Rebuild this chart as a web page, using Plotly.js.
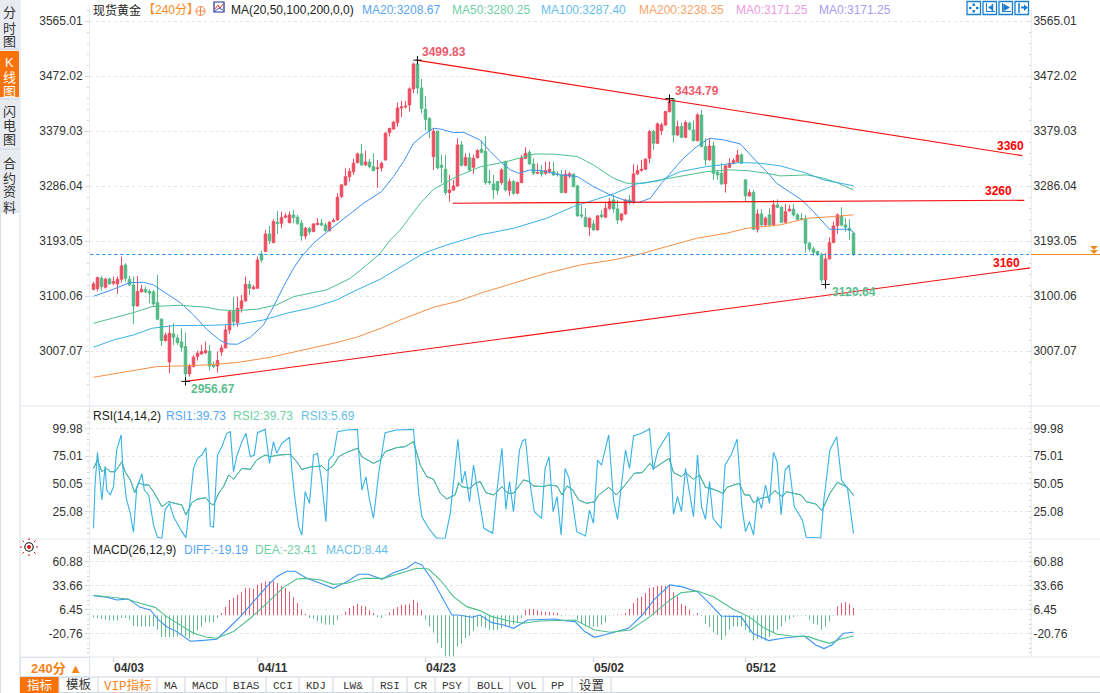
<!DOCTYPE html>
<html><head><meta charset="utf-8">
<script src="https://cdn.plot.ly/plotly-3.0.1.min.js"></script>
<style>html,body{margin:0;padding:0;background:#fff;overflow:hidden}#c{width:1100px;height:693px}</style>
</head><body><div id="c"></div>
<script>
const opens=[3112.5,3113.6,3131.1,3115.9,3130,3122.6,3121.5,3129.4,3153.6,3129.4,
3119.8,3084.3,3108,3112.5,3109.1,3108,3089.9,3061.8,3025.7,2989.6,
3037,3030.2,3023.4,3015.5,2969.3,2981.7,2998.6,3003.1,3005.4,3007.7,
2984,2982.8,3006.5,3013.3,3043.7,3074.7,3056.1,3080.4,3092.8,3120.9,
3113,3114.2,3172.2,3176.2,3206,3191.3,3225.7,3224,3234.2,3225.1,
3238.1,3234.2,3224,3202.6,3215,3210,3221.8,3224,3221.2,3211.6,
3226.9,3229.7,3269.1,3288.9,3302.9,3311.4,3326.6,3341.3,3322.7,3327.7,
3319.8,3316.5,3317.6,3331.1,3377.3,3383.5,3394.2,3419,3420.7,3424,
3451.2,3493.4,3452.9,3416.8,3401,3336.8,3379.6,3322.1,3315.3,3275.9,
3280.4,3287.2,3356.5,3322.1,3335,3318.7,3335,3349.2,3345.3,3294.5,
3290.6,3294.5,3292.9,3328.4,3279.3,3294.5,3274.8,3292.9,3334,3343.6,
3324.4,3308.6,3311.4,3308.6,3311.4,3311.4,3307.5,3305.8,3275.9,3304.1,
3306.9,3287.2,3238.2,3234.2,3217.3,3223,3212.8,3238.2,3234.2,3249.4,
3263.5,3248.3,3229.7,3239.9,3263.5,3259,3307.5,3313.1,3315.4,3334,
3379,3359.3,3380.8,3390.3,3412.9,3433.8,3373.4,3387.5,3369.5,3393.2,
3381.9,3363.9,3407.3,3353.7,3331.2,3354.8,3309.7,3308.6,3290.6,3318.8,
3325.5,3328.4,3339.6,3297.4,3270.3,3275.9,3213.9,3239.9,3221.3,3238.2,
3221.3,3255.1,3251.1,3225.8,3245,3247.8,3238.2,3232,3230.9,3190.3,
3180.7,3176.2,3170.6,3128.3,3163.8,3191.4,3220.1,3236.5,3221.3,3215.6,
3207.2];
const highs=[3125.4,3133.9,3135,3132.2,3132.2,3133.9,3133.9,3167.7,3156.4,3135,
3133.9,3135,3119.8,3117,3112.5,3111.3,3136.7,3063.4,3039.2,3052.2,
3055,3035.3,3046.5,3039.2,2986.2,3001.4,3008.8,3018.4,3024,3018.4,
2990.2,3007,3018.4,3052.2,3077.5,3100,3100,3102.9,3133.9,3126.6,
3119.8,3167.7,3177.9,3212.8,3220,3230.8,3244.9,3243.8,3241,3243.8,
3246.6,3238.1,3229.7,3218,3218,3224,3232.5,3231.4,3225,3228,
3232.5,3274.8,3290.5,3317,3317,3332.8,3343.5,3358.2,3346.9,3332.8,
3342.4,3331,3328.3,3377.9,3385.8,3397,3428,3430.9,3430.9,3454,
3495.7,3499.83,3468,3439.3,3403.3,3384.7,3380.7,3340.1,3339.6,3305.8,
3297.3,3367.8,3363.2,3342.4,3343.5,3339.6,3349.2,3363.9,3371.8,3314.3,
3305.8,3296,3317,3330,3300,3297.3,3294.5,3339.6,3352.6,3348,
3334,3325.5,3322.7,3328.4,3328.4,3328.4,3312,3314.3,3314.3,3311.4,
3308.6,3289,3255,3249.4,3234,3229.7,3238.2,3246.6,3260.7,3266.4,
3272,3263.5,3241,3264.7,3272,3323.8,3322.7,3331.2,3334,3381.9,
3381.9,3394.3,3394,3414,3434.79,3435,3397.7,3394.3,3397.7,3396,
3397.7,3410.1,3415.7,3367.8,3367.8,3362.2,3314.3,3325.5,3322.7,3334,
3334,3348,3342.4,3298.5,3281.6,3280.4,3247.8,3247.8,3235.4,3249.4,
3263.5,3264.7,3253.4,3256.8,3255.1,3256.8,3241,3241,3238.2,3193.1,
3184.6,3177.9,3174.5,3173.4,3200.4,3226.9,3241,3251.1,3232.5,3230.9,
3210];
const lows=[3110.2,3109.1,3110.2,3113.6,3119.8,3119.8,3104.6,3123.8,3125.4,3118.1,
3053.9,3083.2,3107.4,3105.7,3088.8,3084.3,3060.6,3016.7,3024,2970.4,
3018.4,3018.4,3007.1,2956.67,2964.8,2980.6,2991.9,3001.4,3003.1,2974.9,
2978.9,2971.6,2999.8,3012.7,3037,3049.4,3049.4,3073,3091.6,3102.9,
3112.5,3114.2,3157.6,3175,3189,3190.2,3206,3215.6,3232.5,3224,
3224,3221.2,3194.7,3197,3205,3209,3220.7,3219.5,3209.4,3210,
3226,3228,3266.9,3287,3294.5,3305.8,3325.5,3321,3321,3317,
3312.5,3284.3,3311.4,3330,3370.6,3381.8,3387.5,3403.3,3418.5,3412.8,
3443.8,3442.7,3410,3380.7,3367.8,3314.2,3315.3,3291.7,3272,3260.7,
3278.7,3286,3320,3320,3313,3307.4,3333.4,3342.4,3288.9,3289,
3265.2,3272,3289,3277.6,3270.3,3272,3273.7,3291.7,3332.9,3322.7,
3305.8,3307.5,3303,3305.8,3308.6,3304,3303,3274.8,3274.8,3300,
3285,3235.4,3232.5,3217.3,3202.7,3211.7,3211.7,3232.5,3233.7,3246.6,
3241,3223,3226.9,3238.2,3255,3256.8,3305.8,3311.4,3314.3,3325.5,
3348,3358.2,3373.4,3388.7,3411,3360.5,3371.7,3367.8,3367.8,3380.8,
3362.2,3362.2,3352.6,3321.6,3330,3297.4,3297.4,3288.9,3275.9,3317,
3323.8,3326.7,3324.4,3260.7,3269.2,3212.8,3208.3,3219.6,3218.4,3218.4,
3220.1,3249.4,3225.2,3225.2,3243.8,3235.4,3228.6,3228.6,3174.5,3176.2,
3169.4,3168.9,3123.8,3120.64,3163.2,3190.3,3206,3218.4,3210,3195.9,
3168.9];
const closes=[3121.5,3132.2,3117,3129.4,3121.5,3125.4,3129.4,3151.9,3131.1,3119.8,
3084.3,3108.5,3112.5,3108,3105.7,3087.7,3061.8,3025.7,3034.7,3038.1,
3031.3,3022.3,3014.4,2969.3,2981.7,2997.5,3004.3,3007,3008.8,2982.8,
2981.7,2991.9,3013.3,3043.7,3074.7,3057.8,3080.4,3092.8,3120.9,3114.2,
3115.9,3162.1,3162.1,3206,3194.7,3226.9,3223.5,3233.6,3236.4,3238.1,
3233.6,3224,3202.6,3215.6,3209.4,3222.9,3224,3221.2,3211.6,3225.7,
3228.5,3268,3288.9,3302.9,3311.4,3325.5,3341.3,3322.7,3327.7,3319.8,
3313,3317.6,3325.5,3376.2,3384.1,3394.8,3419,3420.7,3421.9,3451.2,
3493.4,3452.9,3417.9,3399.9,3380.7,3379.6,3317.6,3318.7,3275.9,3280.4,
3287.2,3356.5,3322.1,3335,3314.2,3334,3346.9,3344.1,3292.9,3292.9,
3280.4,3279.3,3314.3,3280.4,3294.5,3274.8,3292.9,3334,3342.4,3324.4,
3308.6,3309.8,3307.5,3313,3315.4,3305.8,3306.4,3275.9,3306.9,3307.5,
3286,3236.5,3236.5,3218.4,3232.5,3212.8,3236.5,3235.4,3249.4,3260.7,
3248.3,3229.7,3239.9,3263.5,3259,3307.5,3313.1,3315.4,3332.3,3379,
3359.3,3392,3390.3,3412.9,3429.8,3373.4,3387.5,3369.5,3394.3,3383,
3363.9,3407.3,3353.7,3331.2,3354.8,3308.6,3305.8,3290.6,3321,3325.5,
3330,3339.6,3325.5,3270.3,3275.9,3213.9,3239.9,3221.3,3232.5,3221.3,
3255.1,3251.1,3225.8,3243.8,3247.8,3238.2,3230.9,3230.9,3190.3,3180.7,
3175,3171.7,3128.3,3163.8,3191.4,3219.6,3238.2,3221.3,3217.3,3211.7,
3171.25];

const ma20X=[0,5,9,12.5,15,18.3,21.7,25,28.3,31.7,33.7,36,39.2,42.5,45,47.5,50,52,55,59,63.3,67.5,72,75,77.5,80,82.5,85,87,90,92.5,96.7,99.2,101.7,104.2,106.3,109.2,112,116.7,121,125,129.2,133,136.3,139.2,142,144.2,147.5,150.8,154,157.5,161.7,165,168.3,170.8,173.3,177,180,184,189,190];
const ma20Y=[3100.6,3112.5,3123.8,3124.3,3119.8,3105.7,3089.9,3069.1,3044.8,3025.7,3020,3019.5,3031.3,3052.2,3083.2,3117,3148,3167.7,3190.3,3212.8,3235.3,3257.8,3277.6,3303,3328.3,3359.3,3373.4,3384.7,3383,3377.3,3377.9,3364.5,3345.3,3328.4,3314.3,3308.6,3314.3,3313,3305.8,3303,3286,3272,3262.4,3259,3266.4,3291.7,3308.6,3334,3353.7,3367.8,3365,3358.2,3334,3311.4,3291.7,3280.4,3263.5,3243.8,3213.9,3213.9,3208.67];
const ma50X=[0,5,10,14.6,21.7,28.3,31.7,35.8,40.8,45.8,50,58.3,64.2,68.3,71.7,74.2,76.7,81.7,85,90.8,96.7,103.3,110.4,115.4,121,125,130,133.3,137.5,141.7,146.7,153.3,159.2,163.3,168.3,171.7,178.3,182.5,185.8,190];
const ma50Y=[3055,3063.4,3073,3083.2,3085.4,3082,3077.5,3076.4,3078.7,3086,3100,3111.4,3131,3153.6,3173.3,3195.9,3212.8,3257.8,3281.5,3303,3319.5,3328.4,3341.3,3340.8,3336.8,3322.7,3300.2,3291.7,3291.7,3297.4,3303,3311.4,3314.3,3313.1,3308.6,3304.1,3305.8,3300.2,3292.9,3280.25];
const ma100X=[0,5,10,14.6,20,30,36.7,42.5,48.3,55,60.8,65.8,71.7,77.5,82.5,88.3,96.7,105,113.3,120,125,130,135.8,141.7,146.7,153.3,161.7,166.7,171.7,178.3,182.5,186.7,190];
const ma100Y=[3014.4,3026.8,3035.3,3046.5,3051,3051.6,3053.9,3060.6,3071.9,3082,3094.4,3111.3,3129.4,3153.6,3173.3,3187.4,3204.4,3215.6,3232.5,3252.3,3263.5,3273.7,3290.6,3296.2,3311.4,3319.9,3326.7,3325.5,3321,3308.6,3297.4,3291.7,3287.4];
const ma200X=[0,5,10,15.8,21.7,28.3,35.8,44.2,51.7,60,65.8,72.5,76.7,85,90.8,96.7,105,113.3,121.7,130,136.7,143.3,150.8,158.3,163.3,171.7,178.3,185,190];
const ma200Y=[2963.7,2969.3,2975,2981.7,2982.8,2984.5,2988.5,2997.5,3008.8,3021.2,3031.3,3048.2,3060.6,3082,3091.6,3105.7,3122.7,3139.6,3153.6,3162.1,3172.2,3184.6,3198.7,3207.2,3215.6,3221.3,3232.5,3235.4,3238.35];

const rsi3X=[0,0.4,1,1.7,2.1,2.9,3.3,4.2,5,5.8,6.9,7.3,8.2,9.2,10,10.8,12.1,12.7,13.8,15,16,17.1,17.9,19,20,22.1,23.1,24,25,26,27.1,28.1,28.8,29.2,30,31,32.1,33.3,34.2,35,35.8,37.1,38.1,39.2,40.2,41,42.9,44,45,45.8,47.1,49,49.6,50.4,51.3,52.1,52.9,54,55,56,57.1,58.1,58.8,60,61,63.3,66,66.4,67.1,68.1,69,70,71.3,72.9,75.8,80,80.7,81.3,82.1,83.8,85.8,87.9,89.2,90.2,91.1,92.1,92.9,94,95,
97.6,99.8,100.6,102.1,103.1,104,105,106.5,107.3,108,109,110.2,112,112.9,113.9,114.9,115.9,116.9,117.9,118.9,120.8,123,124,125,126,127,128.8,130,131,133,134,135,137,139,139.9,141.1,143.9,145,146,147,148,150,151,152,153,154,154.9,156.9,157.9,159.4,160.9,162.1,163,164,165,166,167,168,169,170,170.9,171.9,172.9,173.9,175.2,177.2,178.2,181.8,182.6,184.1,185.8,187,188.5,190];
const rsi3Y=[10.2,50.6,78.4,53.6,35.6,66.1,44.6,40.1,47.6,80.5,94,65.5,37.1,23.6,6.6,46.1,59,44.6,40.1,13.2,2.1,1.2,26.6,32.6,20.6,7.2,1.8,29.6,64,73,76,82.6,46.1,12.3,11.1,76,83.5,95.5,97,61,74.5,88,95.5,74.5,76,96,99,68.5,88,77.5,86.5,91.9,62.5,35.6,11.7,4.2,43.1,32.6,76,77.5,50.6,16.2,71.5,76,97,98.5,99,74.5,44.6,56.6,35.6,19.1,59.6,96,98.5,99,71.5,41.6,20.6,10.2,1.2,1.2,23.6,56.6,90.1,50.6,61.6,34.1,67,
10.2,5.7,35.6,82,27.2,52.1,25.1,80.5,88.9,90.1,53.6,25.1,19.1,64,74.5,25.1,38.6,4.2,64,55,7.2,3.3,26.6,14.7,71.5,67,94,35.6,18.3,80.5,64,93.1,95.5,99.4,62.5,80.5,96.4,22.7,38.6,25.1,64,20.6,76,29.6,18.3,52.1,19.1,10.2,67,76,90.1,29.6,7.2,16.2,4.2,38.6,28.1,49.1,32.6,78.4,70,22.1,62.5,67,29.6,17.7,2.1,1.5,35.6,80.5,92.5,53.6,46.1,5.69];
const rsi2X=[0,1,2.1,3.2,4.2,5.4,7.1,7.9,9.2,10.3,11.3,12.5,13.8,15,17.1,18.8,20.4,22.1,23.1,24.6,25.8,28.1,29.2,30,31.3,32.5,33.8,35,37.1,39.2,40.8,42.9,44.2,46.3,49.2,50.8,52.1,54.6,57.1,58.3,60,61.3,63.3,66,67.1,70,71.7,72.9,75.8,77.9,80,81.7,83.3,85,86.7,88.3,90.4,91.3,92.1,94.2,95.4,96.7,
98.1,100.1,102.1,103.6,105,107.5,109,110,112.5,113.9,115.9,117.1,118.4,119.8,121.3,123.3,125.3,126.3,128.8,130.7,132.7,135.2,137.2,139.1,140.1,143.9,145,147,148,150,151.5,153,155,157.4,158.4,161.4,162.8,164,165,166.8,168.8,170.3,172.2,173.2,176.9,178.2,180.6,182.1,184.1,186,188.5,190];
const rsi2Y=[64,71.5,61,64,61,61,70,61,53.6,42.2,51.2,49.1,49.1,43.1,29.6,34.1,32.6,31.1,22.1,33.2,36.2,37.7,32.6,31.1,41.6,47.6,58.1,54.2,64,63.1,71.5,76,74.5,76,76.6,70,63.1,65.5,66.1,61.9,67,74.5,78.4,82,74.5,68.5,71.5,79,82.6,83.5,88,67,56.6,54.2,41.6,36.5,40.1,51.2,47.6,46.1,50.6,52.1,
42.2,40.1,47.6,41.6,41.6,53.6,52.1,48.2,47.6,49.1,48.2,40.1,48.2,44.6,35.6,32.6,34.1,40.1,47,40.1,48.2,59.6,60.2,68.5,64,73,60.2,56.6,60.2,54.2,58.1,47,45.2,41.6,47,50.6,40.1,40.1,33.2,37.1,38.6,44,38.6,43.1,40.1,34.1,32,26,41.6,51.5,47,39.73];

const diffX=[0,3.3,5.8,8.75,11.7,14.2,16.25,18.3,20.8,22.5,24.2,26.7,30.8,33.3,36.7,40,43.3,45.8,48.3,50.4,53.3,56.7,60,63.3,66.25,68.75,72.1,75,78.3,80.4,82.1,85,87.5,89.6,91.25,94.6,96.6,99.6,102.6,105,108.5,112.5,115.4,117.9,120.4,122.8,125.3,128.3,130.7,133.7,137.2,140.1,144.1,147,151,154,156.9,161.9,164.8,168.8,172.7,177.7,180.6,182.6,184.6,187.5,190];
const diffY=[22.4,20.5,17.5,18.6,9.1,6.1,-5.2,-12.8,-18.4,-24.1,-29.4,-28.6,-27.1,-16.6,-1.4,15.6,32.6,43.9,50,50,42,36.4,30.7,38.2,46.6,46.6,40.9,48.4,53.4,60.2,57.1,38.2,17.5,0.4,0.4,-2.2,0.4,-8.2,-10.9,-14.7,-5.2,-4.1,-4.1,-6,-7.1,-18.4,-24.9,-21.5,-18.4,-14.7,0.4,17.5,34.5,32.6,26.9,13.7,-0.7,-1.4,-20.3,-28.6,-25.6,-23.4,-33.6,-37.7,-33.6,-20.3,-19.19];
const deaX=[0,4.2,8.3,11.7,15.4,18.3,21.7,25,28.3,30.8,35,39.2,43.3,47.5,50.8,53.3,56.7,60,63.3,67.5,72.5,76.7,80.8,83.75,86.7,90,93.3,96.6,99.6,103.6,107.5,111.5,120.4,125.3,129.2,134.2,139.1,144.1,147,151,155,159.9,163.8,167.8,170.8,174.7,178.7,181.6,184.1,186.6,190];
const deaY=[22.8,20.5,18.6,13.7,9.1,-1.4,-10.9,-20.3,-24.9,-26,-18.4,-3.3,13.7,31.8,41.3,42,40.1,35.2,36.4,42,42,47.7,53.4,52.6,40.1,21.2,9.9,5.4,-1.4,-6,-9,-6.4,-5.2,-16.6,-19.2,-16.6,-1.4,17.5,25.8,27.7,21.2,6.9,-1.4,-14.7,-21.5,-23.4,-24.1,-28.6,-31.7,-27.1,-23.41];
const macdBars=[-2.3,-3,-4.2,-4.9,-5.7,-5.7,-5.7,-3,-3,-4.9,
-11.7,-12.5,-12.5,-12.5,-12.5,-12.5,-16.3,-24.6,-24.6,-24.6,
-24.6,-23.8,-21.9,-23.8,-26.1,-21.9,-17,-12.5,-7.9,-7.9,
-7.9,-3,2.6,9.4,17.8,19.7,23.4,26.1,31,31,
29.9,34.8,36.7,38.6,38.6,38.6,36.7,33.6,31,27.2,
20.8,14,6.4,1.9,-3,-4.2,-6.8,-8.7,-10.6,-10.6,
-10.6,-4.9,0.8,4.5,8.3,11,13.2,11,10.2,5.7,
2.6,-1.9,-3,0.8,3.4,7.2,9.4,12.1,12.1,13.2,
17.8,14.7,5.7,-4.9,-12.5,-19.3,-31.4,-37,-46.5,-46.5,
-46.5,-35.2,-32.1,-25.7,-23.1,-18.1,-12.5,
-12.5,-14.4,-16.3,-17,-16.3,-14.4,-12.5,-12.5,-10.6,-8.7,-3,6.4,7.2,7.2,5.7,4.5,3.8,3.8,3.4,2.6,-1.1,0.8,-0.4,-0.4,-4.9,-9.4,-12.5,-12.5,-12.5,-12.5,-10.6,-7.9,-0.4,0.8,1.1,0.8,2.6,7.2,14,19.7,21.5,25.3,31,32.1,33.6,33.6,33.6,34.8,26.1,21.5,13.2,11,6.4,0.8,2.6,-1.1,-9.4,-13.2,-19.3,-21.9,-27.6,-23.1,-16.3,-12.5,-12.5,-12.5,-16.3,-20,-28.4,-26.8,-26.8,-28.4,-24.6,-20,-16.3,-12.5,-6.8,-4.9,-1.9,-0.4,-0.4,-1.1,-4.9,-9.4,-10.6,-16.3,-12.5,-6.8,-0.4,10.2,14,15.1,13.2,8.44];

const trendUpperX=[80.7,232.2], trendUpperY=[3499.83,3338.4];
const trendMidX=[89.8,232.7], trendMidY=[3258,3263];
const trendLowerX=[23,234.2], trendLowerY=[2956.67,3148.6];
const lastPrice=3171.25;
const extremeX=[23,81,144,183], extremeY=[2956.67,3499.83,3434.79,3120.64];

const mainTicks=[3565.01,3472.02,3379.03,3286.04,3193.05,3100.06,3007.07];
const rsiTicks=[99.98,75.01,50.05,25.08];
const macdTicks=[60.88,33.66,6.45,-20.76];
const dateTickIdx=[5,41,83,125,163];
const dateTickText=['04/03','04/11','04/23','05/02','05/12'];

const FONT='"Liberation Sans","Noto Sans CJK SC",Arial,sans-serif';
const BITMAP='"Liberation Mono","Noto Sans CJK SC",monospace';
const RED='#ee4d60',GREEN='#52b986';
const C20='#3b93f3',C50='#4cc08c',C100='#36b2e6',C200='#f68f45';
const idx=opens.map((_,i)=>i);
const px=x=>x/1100, py=y=>1-y/693;

function line(x,y,color,w,name,extra){return Object.assign({type:'scatter',mode:'lines',x,y,name,line:{color,width:w||1},hoverinfo:'skip'},extra||{});}
const traces=[
 {type:'candlestick',x:idx,open:opens,high:highs,low:lows,close:closes,xaxis:'x',yaxis:'y',whiskerwidth:0,
  increasing:{line:{color:RED,width:1},fillcolor:RED},decreasing:{line:{color:GREEN,width:1},fillcolor:GREEN},hoverinfo:'skip'},
 line(ma20X,ma20Y,C20,1,'MA20'),
 line(ma50X,ma50Y,C50,1,'MA50'),
 line(ma100X,ma100Y,C100,1,'MA100'),
 line(ma200X,ma200Y,C200,1,'MA200'),
 line(trendUpperX,trendUpperY,'#f50f0f',1.1,'upper',{yaxis:'y4'}),
 line(trendMidX,trendMidY,'#f50f0f',1.1,'mid',{yaxis:'y4'}),
 line(trendLowerX,trendLowerY,'#f50f0f',1.1,'lower',{yaxis:'y4'}),
 {type:'scatter',mode:'lines',x:[-0.8,234.4],y:[lastPrice,lastPrice],yaxis:'y4',line:{color:'#1e8cf5',width:1,dash:'3px,3px'},hoverinfo:'skip'},
 {type:'scatter',mode:'markers',x:extremeX,y:extremeY,yaxis:'y4',marker:{symbol:'cross-thin',size:6,line:{color:'#111',width:1}},hoverinfo:'skip'},
 line(rsi2X,rsi2Y,C20,1,'RSI1',{yaxis:'y2'}),
 line(rsi2X,rsi2Y,C50,1,'RSI2',{yaxis:'y2'}),
 line(rsi3X,rsi3Y,C100,1.1,'RSI3',{yaxis:'y5'}),
 {type:'bar',x:idx,y:macdBars,xaxis:'x',yaxis:'y3',width:0.25,marker:{color:macdBars.map(v=>v>=0?'#e4596b':'#62bb90'),line:{width:0}},hoverinfo:'skip'},
 line(diffX,diffY,C20,1.1,'DIFF',{yaxis:'y6'}),
 line(deaX,deaY,C50,1.1,'DEA',{yaxis:'y6'})
];

const X0=90,X1=1031;
const xRange=[(X0-93.5)/4,(X1-93.5)/4];
function yAxis(top,bot,range,ticks,right,minorStep,overlay,shift){
 const a={domain:[py(bot),py(top)],range,autorange:false,tickmode:'array',tickvals:ticks,ticktext:ticks.map(v=>v.toFixed(2)),
  tickfont:{family:FONT,size:12,color:'#333'},zeroline:false,fixedrange:true,anchor:'x',automargin:false,
  showline:true,linecolor:'#e8edf2',linewidth:1,
  showgrid:!right,gridcolor:'#e6e6e6',griddash:'dot',gridwidth:1,
  ticks:right?'':'outside',ticklen:4,tickcolor:'#d4d9df',ticklabelshift:shift||0,
  minor:{tickmode:'linear',tick0:ticks[0],dtick:minorStep,ticks:right?'inside':'outside',ticklen:2,tickcolor:'#cfd5db',showgrid:false}};
 if(right){a.side='right';a.overlaying=overlay;a.ticklabelstandoff=-1;}
 return a;
}
const mainR=[2916.8,3588.0],rsiR=[0.6,120],macdR=[-47.2,86.6];

const shapes=[],ann=[];
function rect(x0,y0,x1,y1,fill,lc,lw){shapes.push({type:'rect',xref:'paper',yref:'paper',x0:px(x0),x1:px(x1),y0:py(y0),y1:py(y1),fillcolor:fill||'rgba(0,0,0,0)',line:{color:lc||'rgba(0,0,0,0)',width:lc?(lw||1):0}});}
function seg(x0,y0,x1,y1,c,w){shapes.push({type:'line',xref:'paper',yref:'paper',x0:px(x0),x1:px(x1),y0:py(y0),y1:py(y1),line:{color:c,width:w||1}});}
function circ(cx,cy,r,fill,lc,lw){shapes.push({type:'circle',xref:'paper',yref:'paper',x0:px(cx-r),x1:px(cx+r),y0:py(cy+r),y1:py(cy-r),fillcolor:fill||'rgba(0,0,0,0)',line:{color:lc||'rgba(0,0,0,0)',width:lc?(lw||1):0}});}
function poly(pts,fill){shapes.push({type:'path',xref:'paper',yref:'paper',path:'M'+pts.map(p=>px(p[0])+','+py(p[1])).join('L')+'Z',fillcolor:fill,line:{width:0}});}
function txt(x,y,t,c,size,opt){ann.push(Object.assign({xref:'paper',yref:'paper',x:px(x),y:py(y),text:t,showarrow:false,xanchor:'left',yanchor:'middle',borderpad:0,font:{family:FONT,size:size||12,color:c||'#333'}},opt||{}));}

// panel separators
seg(20,406,1100,406,'#e4e9ef');seg(20,539,1100,539,'#e4e9ef');seg(20,657,1100,657,'#e4e9ef');
seg(20,0,20,693,'#d5dde6');seg(0.5,213,0.5,693,'#d5dde6');
// left sidebar
rect(0,0,19,212,'#e8ecf1');
rect(0,51,19,97,'#f97309');
seg(0,49,19,49,'#cfd6de');seg(0,99,19,99,'#cfd6de');seg(0,149,19,149,'#cfd6de');seg(0,212,19,212,'#cfd6de');
const side=(s,ys,c)=>s.split('').forEach((ch,i)=>txt(9.5,ys[i],ch,c,13,{xanchor:'center'}));
side('分时图',[13,28,42],'#333');side('K线图',[62,77,92],'#fff');side('闪电图',[111,125,140],'#333');side('合约资料',[163,178,192,207],'#333');

// header
txt(92,10,'现货黄金','#222',12);
txt(142,10,'【240分】','#f68a1e',12);
circ(200.5,11,4.5,null,'#f4874b',1);seg(195.5,11,205.5,11,'#f4874b');seg(200.5,6,200.5,16,'#f4874b');
rect(214,2,224,12,'#fff','#1c2f8a',1.2);
seg(215,9,218,5,'#e33',1);seg(218,5,220,8,'#e33',1);seg(220,8,223,4,'#e33',1);seg(215,11,219,8,'#35c',1);seg(219,8,223,10,'#35c',1);
txt(230,10,'MA(20,50,100,200,0,0)','#222',12);
txt(361,10,'MA20:3208.67','#58a6f5',12);
txt(451,10,'MA50:3280.25','#6fcfa5',12);
txt(540,10,'MA100:3287.40','#66c0ea',12);
txt(638,10,'MA200:3238.35','#f7a56c',12);
txt(735,10,'MA0:3171.25','#ec9be0',12);
txt(818,10,'MA0:3171.25','#a79bf3',12);
// toolbar icons
const B='#1a7fd0';
[967,983,999,1015].forEach(x=>rect(x,1.5,x+13.5,14.5,'#fff',B,1.3));
rect(972.5,3.5,975,6,B);rect(972.5,10,975,12.5,B);rect(969,6.8,971.5,9.2,B);rect(976,6.8,978.5,9.2,B);
[983,999].forEach(x=>{seg(x+3.5,3,x+3.5,12,B,1);seg(x+3,11.5,x+12,11.5,B,1);});
seg(992.5,4,992.5,11,B,1.5);poly([[992,5],[992,10],[988,7.5]],B);
seg(1003,4,1003,11,B,1.5);poly([[1004,4],[1004,11],[1010,7.5]],B);
seg(1019,3,1019,13,B,1.5);rect(1021,6.5,1024,8.5,B);poly([[1024,4.5],[1024,11],[1028,7.5]],B);

// value labels
const bold=(x,y,t,c)=>txt(x,y,t,c,12,{font:{family:FONT,size:12,color:c,weight:'bold'}});
bold(421,52,'3499.83','#ee5a6c');
bold(674,91,'3434.79','#ee5a6c');
bold(190,389,'2956.67','#5cbd90');
bold(831,292,'3120.64','#5cbd90');
bold(996,146,'3360','#f00');
bold(984,191,'3260','#f00');
bold(992,263,'3160','#f00');
// last price marker
seg(1031,254.5,1100,254.5,'#f08a1c',1.2);
poly([[1090,246],[1098,246],[1094,250]],'#f08a1c');poly([[1090,250],[1098,250],[1094,254]],'#f08a1c');

// sub-panel headers
txt(92,416,'RSI(14,14,2)','#222',12);
txt(165,416,'RSI1:39.73','#58a6f5',12);
txt(232,416,'RSI2:39.73','#6fcfa5',12);
txt(300,416,'RSI3:5.69','#66c0ea',12);
txt(92,550,'MACD(26,12,9)','#222',12);
txt(183,550,'DIFF:-19.19','#58a6f5',12);
txt(254,550,'DEA:-23.41','#6fcfa5',12);
txt(325,550,'MACD:8.44','#66c0ea',12);
// sun icon
circ(29,547,4.2,'#fff','#111',1.1);circ(29,547,2,'#f01010');
[[29,540,29,538],[29,554,29,556],[22,547,20,547],[36,547,38,547],[24,542,22.5,540.5],[34,542,35.5,540.5],[24,552,22.5,553.5],[34,552,35.5,553.5]].forEach(s=>seg(s[0],s[1],s[2],s[3],'#f01010',1));

// period box
rect(20.5,657.5,89.5,677,'#fff','#dce2e9');
txt(30,668,'240分 ▲','#f6831a',13,{font:{family:FONT,size:13,color:'#f6831a',weight:'bold'}});
// tabs
seg(20,677,1100,677,'#cdd5df');seg(20,692.5,1100,692.5,'#cdd5df');
const tabs=[['指标',20,59],['模板',59,98],['VIP指标',98,157],['MA',157,185],['MACD',185,226],['BIAS',226,266],['CCI',266,299],['KDJ',299,333],['LW&',333,373],['RSI',373,407],['CR',407,435],['PSY',435,469],['BOLL',469,510],['VOL',510,543],['PP',543,572],['设置',572,611]];
tabs.forEach((t,i)=>{
 if(i===0)rect(t[1],677,t[2],693,'#f97309');
 seg(t[2],677,t[2],693,'#cdd5df');
 const c=i===0?'#fff':(i===2?'#f6831a':'#333');
 txt((t[1]+t[2])/2,685.5,t[0].replace('&','&amp;'),c,i<3||i===15?12.5:11,{xanchor:'center',font:{family:BITMAP,size:i<3||i===15?12.5:11,color:c}});
});

const layout={width:1100,height:693,margin:{l:0,r:0,t:0,b:0},paper_bgcolor:'#fff',plot_bgcolor:'#fff',showlegend:false,
 barmode:'overlay',boxgap:0.1,hovermode:false,dragmode:false,
 xaxis:{domain:[px(X0),px(X1)],range:xRange,autorange:false,anchor:'y3',side:'bottom',rangeslider:{visible:false},fixedrange:true,
  tickmode:'array',tickvals:dateTickIdx,ticktext:dateTickText,ticks:'outside',ticklen:4,tickcolor:'#c9ced4',
  ticklabelposition:'outside right',tickfont:{family:FONT,size:12,color:'#333',weight:'bold'},showgrid:false,zeroline:false,showline:false,automargin:false},
 yaxis:yAxis(8,405,mainR,mainTicks,false,18.602,null,-1),
 yaxis2:yAxis(406,539,rsiR,rsiTicks,false,4.994),
 yaxis3:yAxis(539,657,macdR,macdTicks,false,5.442),
 yaxis4:yAxis(8,405,mainR,mainTicks,true,18.602,'y',-1),
 yaxis5:yAxis(406,539,rsiR,rsiTicks,true,4.994,'y2'),
 yaxis6:yAxis(539,657,macdR,macdTicks,true,5.442,'y3'),
 shapes,annotations:ann};
Plotly.newPlot('c',traces,layout,{displayModeBar:false,staticPlot:true});
</script></body></html>
